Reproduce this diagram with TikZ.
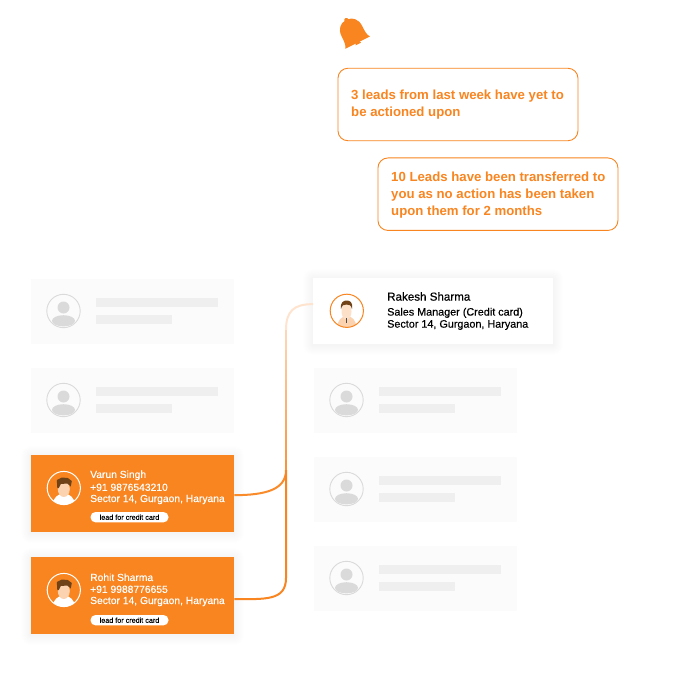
\documentclass[tikz,border=0pt]{standalone}
\usepackage{fontspec}
\setmainfont{Liberation Sans}
\definecolor{brand}{HTML}{F98520}
\definecolor{hairc}{HTML}{6F4218}
\definecolor{skin}{HTML}{FBD3B0}
\definecolor{cardgray}{HTML}{FBFBFB}
\definecolor{bargray}{HTML}{EFEFEF}
\definecolor{avgray}{HTML}{DADADA}
\tikzset{
  card/.style={rectangle,inner sep=0pt,minimum width=#1,anchor=north west},
  txt/.style={inner sep=0pt,anchor=west,font=\fontsize{10.3}{12}\selectfont\addfontfeature{FakeBold=.15}},
  darktxt/.style={inner sep=0pt,anchor=west,text=black,font=\fontsize{10.8}{12}\selectfont\addfontfeature{FakeBold=.35}},
  callout/.style={draw=brand,line width=.9pt,rounded corners=10pt,fill=white,inner sep=0pt,minimum width=240pt,minimum height=72.5pt,anchor=north west},
  calltxt/.style={inner sep=0pt,anchor=north west,text=brand,align=left,font=\fontsize{13.2}{17}\selectfont\bfseries},
  pill/.style={fill=white,rounded corners=5pt,inner sep=0pt,minimum width=78pt,minimum height=10.4pt,text=black,font=\fontsize{7.2}{8}\selectfont\addfontfeature{FakeBold=.15}},
  link/.style={line width=2pt}
}
\newcommand{\softshadow}[4]{%
  \foreach \e in {1,...,10}{
    \fill[black,fill opacity=.0035,rounded corners=\e pt] (#1-\e,#2-\e+1) rectangle (#3+\e,#4+\e+1);
  }}
\newcommand{\graycard}[3]{%
  \node[card=203pt,minimum height=65pt,fill=cardgray] (#1) at (#2,#3) {};
  \fill[bargray] (#2+65,#3+19) rectangle (#2+187,#3+28);
  \fill[bargray] (#2+65,#3+36) rectangle (#2+141,#3+45);
  \draw[avgray,line width=.9pt] (#2+32.5,#3+32) circle[radius=16.7];
  \fill[avgray] (#2+32.5,#3+28.5) circle[radius=6];
  \fill[avgray] (#2+32.5,#3+41.8) ellipse[x radius=11.5,y radius=5.6];
}
\newcommand{\personavatar}[2]{%
  \begin{scope}
    \clip (#1,#2) circle[radius=16.6];
    \fill[white] (#1,#2+16.5) ellipse[x radius=11,y radius=11];
  \end{scope}
  \fill[skin] (#1,#2+1) ellipse[x radius=6,y radius=8];
  \fill[hairc] (#1-6.5,#2) -- (#1-7,#2-8) -- (#1-2,#2-10.5) -- (#1+4,#2-10) -- (#1+8,#2-7) -- (#1+7,#2-1.5) -- (#1+3.5,#2-4.5) -- (#1-3,#2-4) -- (#1-5,#2) -- cycle;
  \draw[white,line width=1pt] (#1,#2) circle[radius=16.6];
}
\newcommand{\leadcard}[5]{% name, top, person, phone, pill yoffset
  \softshadow{31}{#2}{234}{#2+77}
  \node[card=203pt,minimum height=77pt,fill=brand] (#1) at (31,#2) {};
  \personavatar{63.8}{#2+33}
  \node[txt,text=white] (#1n) at (90,#2+20.3) {#3};
  \node[txt,text=white] (#1p) at (90,#2+32.3) {#4};
  \node[txt,text=white] (#1a) at (90,#2+44.5) {Sector 14, Gurgaon, Haryana};
  \node[pill] (#1t) at (129.5,#2+#5) {lead for credit card};
}
\begin{document}
\begin{tikzpicture}[x=1pt,y=-1pt]
\useasboundingbox (0,0) rectangle (700,700);
\fill[white] (0,0) rectangle (700,700);

% bell
\begin{scope}[shift={(357.6,42.6)},rotate=26.6]
  \fill[brand] (-13.8,0) .. controls (-11.5,-2.5) and (-11.5,-7) .. (-11.5,-13)
     .. controls (-11.5,-21) and (-6,-25) .. (-2.4,-25)
     .. controls (-2,-28) and (2,-28) .. (2.4,-25)
     .. controls (6,-25) and (11.5,-21) .. (11.5,-13)
     .. controls (11.5,-7) and (11.5,-2.5) .. (13.8,0) -- cycle;
  \fill[brand] (-3,1.6) arc[start angle=180,end angle=360,radius=3] -- cycle;
\end{scope}

% callouts
\node[callout] (c1) at (337.5,67.8) {};
\node[calltxt] (c1t) at (351,90) {3 leads from last week have yet to\\be actioned upon};
\node[callout] (c2) at (377.5,157.5) {};
\node[calltxt] (c2t) at (391,171.3) {10 Leads have been transferred to\\you as no action has been taken\\upon them for 2 months};

% gray cards
\graycard{gl1}{31}{279}
\graycard{gl2}{31}{368}
\graycard{gr1}{314}{368}
\graycard{gr2}{314}{457}
\graycard{gr3}{314}{546}

% lead cards
\leadcard{varun}{455}{Varun Singh}{+91 9876543210}{62.2}
\leadcard{rohit}{557}{Rohit Sharma}{+91 9988776655}{63.2}

% rakesh card
\softshadow{313}{278}{553}{344}
\node[card=240pt,minimum height=66pt,fill=white] (rakesh) at (313,278) {};
\begin{scope}
  \clip (346.8,310.8) circle[radius=16.6];
  \fill[skin] (346.8,327) ellipse[x radius=9.5,y radius=11];
\end{scope}
\fill[skin!70!white] (346.5,311.5) ellipse[x radius=5,y radius=8];
\fill[hairc] (341,309) .. controls (340,302) and (344,300.5) .. (346.5,300.5) .. controls (350,300.5) and (353,302) .. (352,309) .. controls (351,305) and (349,304.5) .. (346.5,304.5) .. controls (344,304.5) and (342,305) .. (341,309) -- cycle;
\fill[black!70] (346,318) rectangle (347.3,323);
\draw[brand,line width=1pt] (346.8,310.8) circle[radius=16.6];
\node[darktxt,font=\fontsize{11.6}{13}\selectfont\addfontfeature{FakeBold=.35}] (rn) at (387,296.5) {Rakesh Sharma};
\node[darktxt] (rt) at (387,312.8) {Sales Manager (Credit card)};
\node[darktxt] (ra) at (387,325) {Sector 14, Gurgaon, Haryana};

% connectors
\coordinate (jv) at (286,470);
\coordinate (jr) at (286,578);
\coordinate (top) at (286,330);
\draw[link,brand!95!white] ([yshift=-1.5pt]varun.east) .. controls (265,495) and (286,490) .. (jv);
\draw[link,brand] ([yshift=-3.5pt]rohit.east) .. controls (265,599) and (286,601) .. (jr) -- (jv);
\foreach \i in {0,...,13}{
  \pgfmathtruncatemacro{\m}{88-\i*4.2}
  \draw[link,brand!\m!white] (286,470-\i*10) -- (286,460-\i*10-.3);
}
\draw[link,brand!22!white] (top) .. controls (286,311) and (294,304) .. ([yshift=7pt]rakesh.west);
\end{tikzpicture}
\end{document}
